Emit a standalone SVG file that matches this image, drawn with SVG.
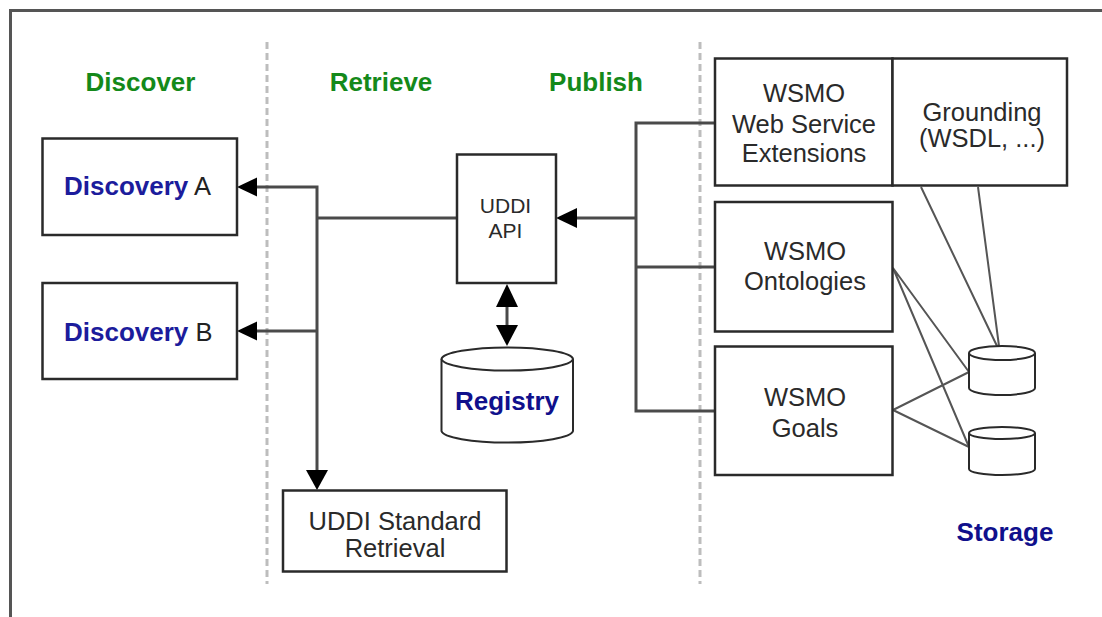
<svg xmlns="http://www.w3.org/2000/svg" width="1102" height="617" viewBox="0 0 1102 617">
<style>
.box{fill:#fff;stroke:#2a2a2a;stroke-width:2.5}
.t{font-family:"Liberation Sans",Arial,sans-serif;font-size:25.5px;fill:#2a2a2a;text-anchor:middle}
.hd{font-family:"Liberation Sans",Arial,sans-serif;font-size:26px;font-weight:bold;fill:#14891a;text-anchor:middle}
.bl{font-family:"Liberation Sans",Arial,sans-serif;font-size:26px;font-weight:bold;fill:#10108c;text-anchor:middle}
.ln{fill:none;stroke:#4a4a4a;stroke-width:3}
.sl{fill:none;stroke:#555;stroke-width:2}
.dv{fill:none;stroke:#bdbdbd;stroke-width:3;stroke-dasharray:7 4}
.ah{fill:#000}
.cyl{fill:#fff;stroke:#2a2a2a;stroke-width:2}
</style>
<rect width="1102" height="617" fill="#fff"/>
<path d="M10.5,617 V10.5 H1102" fill="none" stroke="#555" stroke-width="3"/>
<g id="dividers">
<line class="dv" x1="267" y1="42" x2="267" y2="584"/>
<line class="dv" x1="700" y1="42" x2="700" y2="584"/>
</g>
<g id="headers">
<text class="hd" x="140.5" y="91">Discover</text>
<text class="hd" x="381" y="91">Retrieve</text>
<text class="hd" x="596" y="91">Publish</text>
<text class="bl" x="1005" y="541">Storage</text>
</g>
<g id="connectors">
<path class="ln" d="M257,187 H317 V470"/>
<path class="ln" d="M257,331 H317"/>
<path class="ln" d="M317,218 H457"/>
<path class="ln" d="M715,123 H636 V411 H715"/>
<path class="ln" d="M636,267 H715"/>
<path class="ln" d="M636,218 H577"/>
<path class="ln" d="M507,305 V326" stroke="#222" stroke-width="2"/>
<polygon class="ah" points="237,187 257,177.5 257,196.5"/>
<polygon class="ah" points="237,331 257,321.5 257,340.5"/>
<polygon class="ah" points="317,490 306,470 328,470"/>
<polygon class="ah" points="556,218 577,208 577,228"/>
<polygon class="ah" points="507,284 496,307 518,307"/>
<polygon class="ah" points="507,346 496,325 518,325"/>
<path class="sl" d="M921,187 L997,346 M978,187 L999,346"/>
<path class="sl" d="M893,268 L969,372 M893,268 L969,447"/>
<path class="sl" d="M893,410 L969,372 M893,410 L969,447"/>
</g>
<g id="discoveryA">
<rect class="box" x="42.5" y="138.5" width="194.5" height="96.5"/>
<text x="64" y="195" font-family="Liberation Sans,Arial,sans-serif" font-size="26"><tspan font-weight="bold" fill="#1c1c9c">Discovery</tspan><tspan fill="#222" font-size="25.5"> A</tspan></text>
</g>
<g id="discoveryB">
<rect class="box" x="42.5" y="283" width="194.5" height="96"/>
<text x="64" y="341" font-family="Liberation Sans,Arial,sans-serif" font-size="26"><tspan font-weight="bold" fill="#1c1c9c">Discovery</tspan><tspan fill="#222" font-size="25.5"> B</tspan></text>
</g>
<g id="uddiApi">
<rect class="box" x="457" y="154.5" width="99" height="128.5"/>
<text class="t" x="505.5" y="213" font-size="21" style="font-size:21px" fill="#444">UDDI</text>
<text class="t" x="505.5" y="237.5" style="font-size:21px" fill="#444">API</text>
</g>
<g id="registry">
<path class="cyl" d="M441.5,359 A65.8,12 0 0,1 573,359 V431 A65.8,12 0 0,1 441.5,431 Z"/>
<path class="cyl" d="M441.5,359 A65.8,12 0 0,0 573,359"/>
<text class="bl" x="507" y="410">Registry</text>
</g>
<g id="uddiRetrieval">
<rect class="box" x="283" y="490.5" width="223.5" height="81"/>
<text class="t" x="395" y="530">UDDI Standard</text>
<text class="t" x="395" y="557">Retrieval</text>
</g>
<g id="wsExtensions">
<rect class="box" x="715" y="58.5" width="177.5" height="127"/>
<text class="t" x="804" y="102">WSMO</text>
<text class="t" x="804" y="133">Web Service</text>
<text class="t" x="804" y="162">Extensions</text>
</g>
<g id="grounding">
<rect class="box" x="892.5" y="58.5" width="174.5" height="127"/>
<text class="t" x="982" y="121">Grounding</text>
<text class="t" x="982" y="147">(WSDL, ...)</text>
</g>
<g id="ontologies">
<rect class="box" x="715" y="202" width="177.5" height="129.5"/>
<text class="t" x="805" y="260">WSMO</text>
<text class="t" x="805" y="290">Ontologies</text>
</g>
<g id="goals">
<rect class="box" x="715" y="346.5" width="177.5" height="128.5"/>
<text class="t" x="805" y="406">WSMO</text>
<text class="t" x="805" y="437">Goals</text>
</g>
<g id="storage1">
<path class="cyl" d="M969,353 A33,7 0 0,1 1035,353 V388 A33,7 0 0,1 969,388 Z"/>
<path class="cyl" d="M969,353 A33,7 0 0,0 1035,353"/>
</g>
<g id="storage2">
<path class="cyl" d="M969,433 A33,6 0 0,1 1035,433 V469 A33,6 0 0,1 969,469 Z"/>
<path class="cyl" d="M969,433 A33,6 0 0,0 1035,433"/>
</g>
</svg>
